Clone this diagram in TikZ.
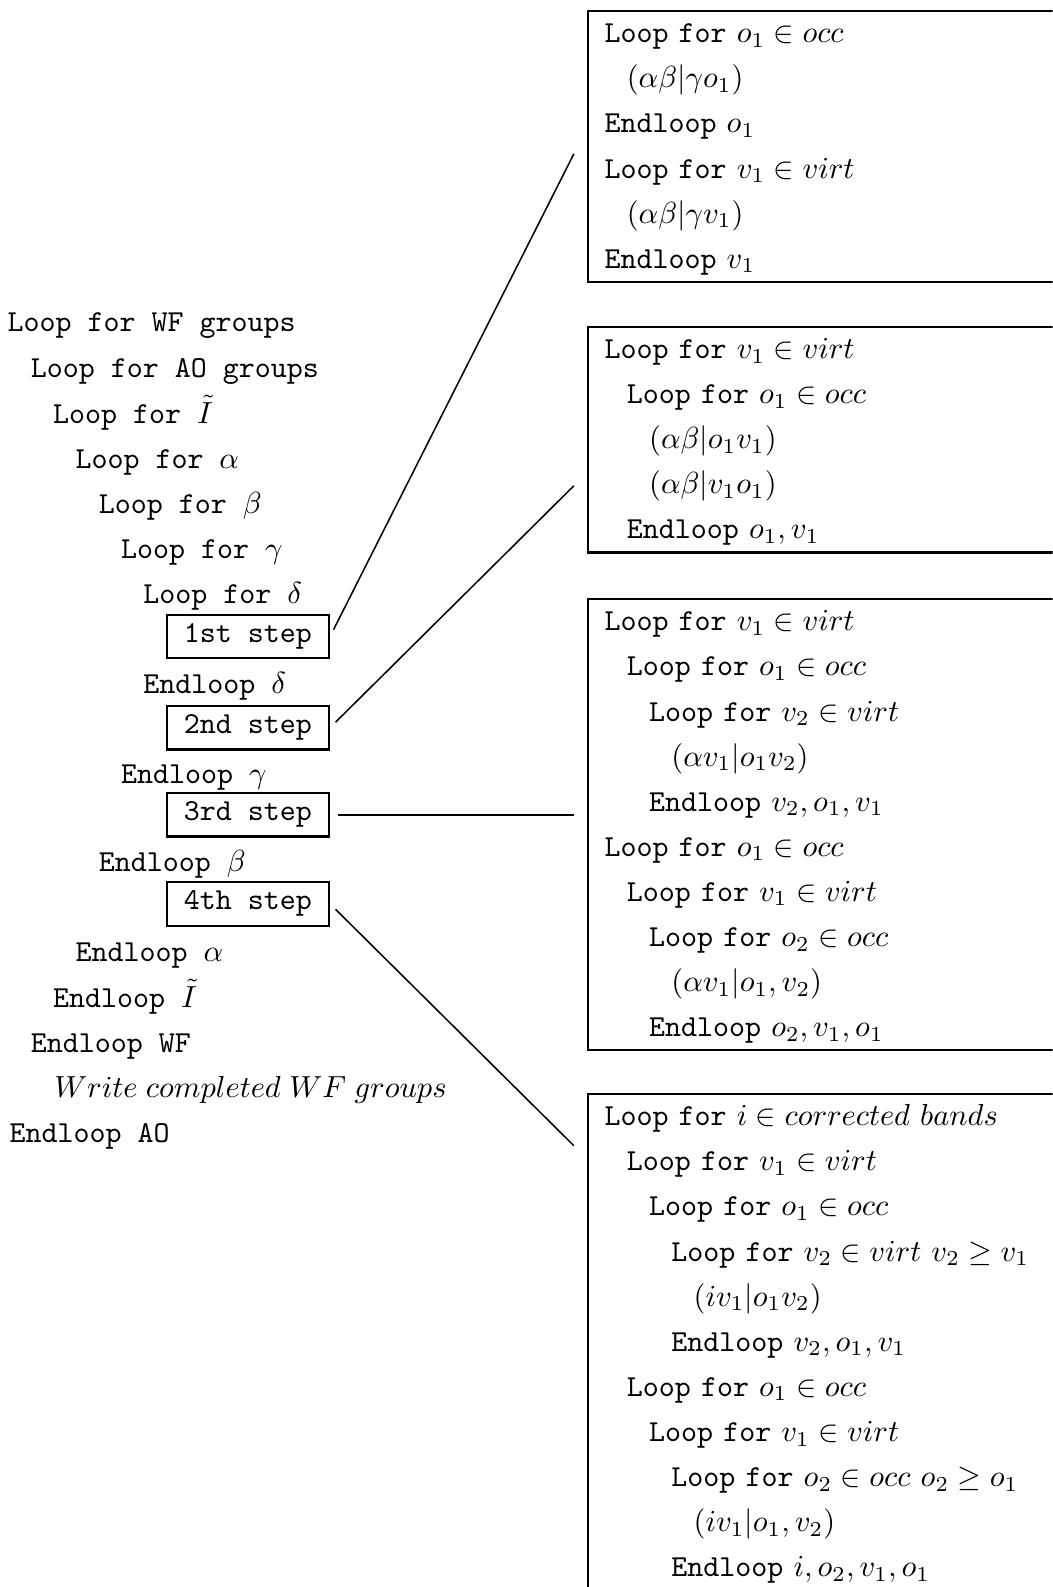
\documentclass[tikz,border=0pt]{standalone}
\usepackage{amsmath}
\usepackage{amssymb}
\usepackage{tikz}
\usetikzlibrary{positioning}

\newcommand{\upx}{0.01168cm}
\newlength{\indstep}
\setlength{\indstep}{0.257cm}
\newcommand{\codeln}[2]{\hspace*{#1\indstep}#2\strut}

\begin{document}
\begin{tikzpicture}[
  x=\upx, y=-\upx,
  txt/.style={anchor=base west, inner sep=0pt, font=\ttfamily},
  stepbox/.style={draw, line width=0.7pt, minimum width=160*\upx, minimum height=43*\upx, inner sep=0pt, font=\ttfamily},
  codebox/.style={draw, line width=0.7pt, anchor=north west, align=left, text width=5.5cm, inner xsep=0.19cm, inner ysep=0pt, font=\fontsize{10}{14.8}\selectfont\ttfamily},
  link/.style={line width=0.5pt, shorten <=0.09cm}
]
  \useasboundingbox (0,0) rectangle (1040,1568);
  \clip (0,0) rectangle (1040,1568);

  % outer loops
  \node[txt] (wfloop) at (7,328) {Loop for WF groups};
  \node[txt] (aoloop) at (30,373) {Loop for AO groups};
  \node[txt] (iloop) at (52,418) {Loop for $\tilde{I}$};
  \node[txt] (aloop) at (74,463) {Loop for $\alpha$};
  \node[txt] (bloop) at (97,507) {Loop for $\beta$};
  \node[txt] (gloop) at (119,552) {Loop for $\gamma$};
  \node[txt] (dloop) at (141,596) {Loop for $\delta$};
  \node[stepbox] (step1) at (245,629) {1st step};
  \node[txt] (dend) at (141,685) {Endloop $\delta$};
  \node[stepbox] (step2) at (245,719) {2nd step};
  \node[txt] (gend) at (119,774) {Endloop $\gamma$};
  \node[stepbox] (step3) at (245,805) {3rd step};
  \node[txt] (bend) at (97,861) {Endloop $\beta$};
  \node[stepbox] (step4) at (245,893) {4th step};
  \node[txt] (aend) at (74,950) {Endloop $\alpha$};
  \node[txt] (iend) at (52,995) {Endloop $\tilde{I}$};
  \node[txt] (wfend) at (30,1040) {Endloop WF};
  \node[txt] (wfwrite) at (53,1084) {$Write\;completed\;WF\;groups$};
  \node[txt] (aoend) at (9,1129) {Endloop AO};

  % the four steps in detail
  \node[codebox] (code1) at (580,10) {%
    \codeln{0}{Loop for $o_1\in occ$}\\
    \codeln{1}{$(\alpha\beta|\gamma o_1)$}\\
    \codeln{0}{Endloop $o_1$}\\
    \codeln{0}{Loop for $v_1\in virt$}\\
    \codeln{1}{$(\alpha\beta|\gamma v_1)$}\\
    \codeln{0}{Endloop $v_1$}};
  \node[codebox] (code2) at (580,322) {%
    \codeln{0}{Loop for $v_1\in virt$}\\
    \codeln{1}{Loop for $o_1\in occ$}\\
    \codeln{2}{$(\alpha\beta|o_1v_1)$}\\
    \codeln{2}{$(\alpha\beta|v_1o_1)$}\\
    \codeln{1}{Endloop $o_1,v_1$}};
  \node[codebox] (code3) at (580,591) {%
    \codeln{0}{Loop for $v_1\in virt$}\\
    \codeln{1}{Loop for $o_1\in occ$}\\
    \codeln{2}{Loop for $v_2\in virt$}\\
    \codeln{3}{$(\alpha v_1|o_1v_2)$}\\
    \codeln{2}{Endloop $v_2,o_1,v_1$}\\
    \codeln{0}{Loop for $o_1\in occ$}\\
    \codeln{1}{Loop for $v_1\in virt$}\\
    \codeln{2}{Loop for $o_2\in occ$}\\
    \codeln{3}{$(\alpha v_1|o_1,v_2)$}\\
    \codeln{2}{Endloop $o_2,v_1,o_1$}};
  \node[codebox] (code4) at (580,1080) {%
    \codeln{0}{Loop for $i\in corrected$ $bands$}\\
    \codeln{1}{Loop for $v_1\in virt$}\\
    \codeln{2}{Loop for $o_1\in occ$}\\
    \codeln{3}{Loop for $v_2\in virt$ $v_2\geq v_1$}\\
    \codeln{4}{$(iv_1|o_1v_2)$}\\
    \codeln{3}{Endloop $v_2,o_1,v_1$}\\
    \codeln{1}{Loop for $o_1\in occ$}\\
    \codeln{2}{Loop for $v_1\in virt$}\\
    \codeln{3}{Loop for $o_2\in occ$ $o_2\geq o_1$}\\
    \codeln{4}{$(iv_1|o_1,v_2)$}\\
    \codeln{3}{Endloop $i,o_2,v_1,o_1$}};

  \coordinate (tip1) at (567,152);
  \coordinate (tip2) at (567,480);
  \coordinate (tip3) at (567,805);
  \coordinate (tip4) at (567,1132);

  \draw[link] (step1.east) -- (tip1);
  \draw[link] (step2.east) -- (tip2);
  \draw[link] (step3.east) -- (tip3);
  \draw[link] (step4.east) -- (tip4);
\end{tikzpicture}
\end{document}
